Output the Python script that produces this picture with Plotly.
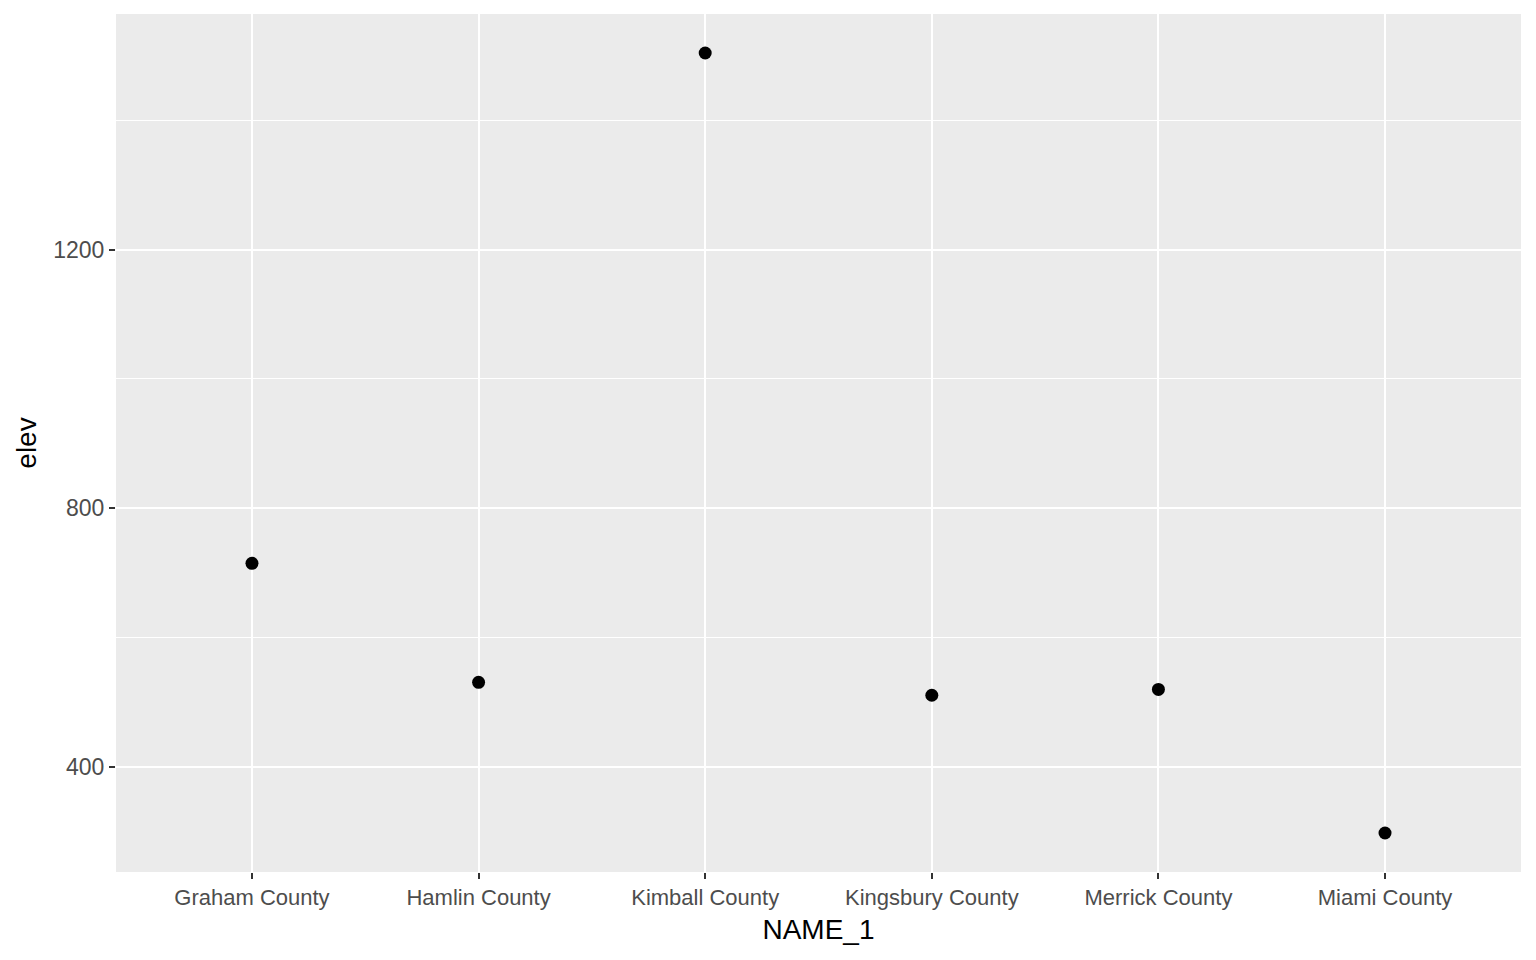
import plotly.graph_objects as go

# county names and elevation values
counties = ["Graham County", "Hamlin County", "Kimball County",
            "Kingsbury County", "Merrick County", "Miami County"]
elev = [715, 531, 1504, 511, 520, 298]

major_ticks = [400, 800, 1200]
minor_ticks = [600, 1000, 1400]

fig = go.Figure()
fig.add_trace(go.Scatter(
    x=counties, y=elev, mode="markers",
    marker=dict(color="black", size=13),
    showlegend=False,
))

fig.update_layout(
    width=1536, height=960,
    paper_bgcolor="white",
    plot_bgcolor="#EBEBEB",
    margin=dict(l=108, r=23, t=6, b=96),
    font=dict(family="Arial, Liberation Sans, sans-serif"),
)
fig.update_xaxes(
    type="category",
    range=[-0.6, 5.6],
    showgrid=True, gridcolor="white", gridwidth=2,
    zeroline=False, showline=False,
    ticks="outside", ticklen=6, tickwidth=2, tickcolor="#333333",
    tickfont=dict(size=22, color="#4D4D4D"),
    title=dict(text="NAME_1", font=dict(size=28, color="black"), standoff=9),
)
fig.update_yaxes(
    range=[237.7, 1564.3],
    tickvals=major_ticks,
    showgrid=True, gridcolor="white", gridwidth=2,
    minor=dict(tickvals=minor_ticks, showgrid=True, gridcolor="white",
               gridwidth=1, ticks=""),
    zeroline=False, showline=False,
    ticks="outside", ticklen=6, tickwidth=2, tickcolor="#333333",
    tickfont=dict(size=23, color="#4D4D4D"),
    title=dict(text="elev", font=dict(size=28, color="black"), standoff=8),
)

fig.write_html("out.html")
